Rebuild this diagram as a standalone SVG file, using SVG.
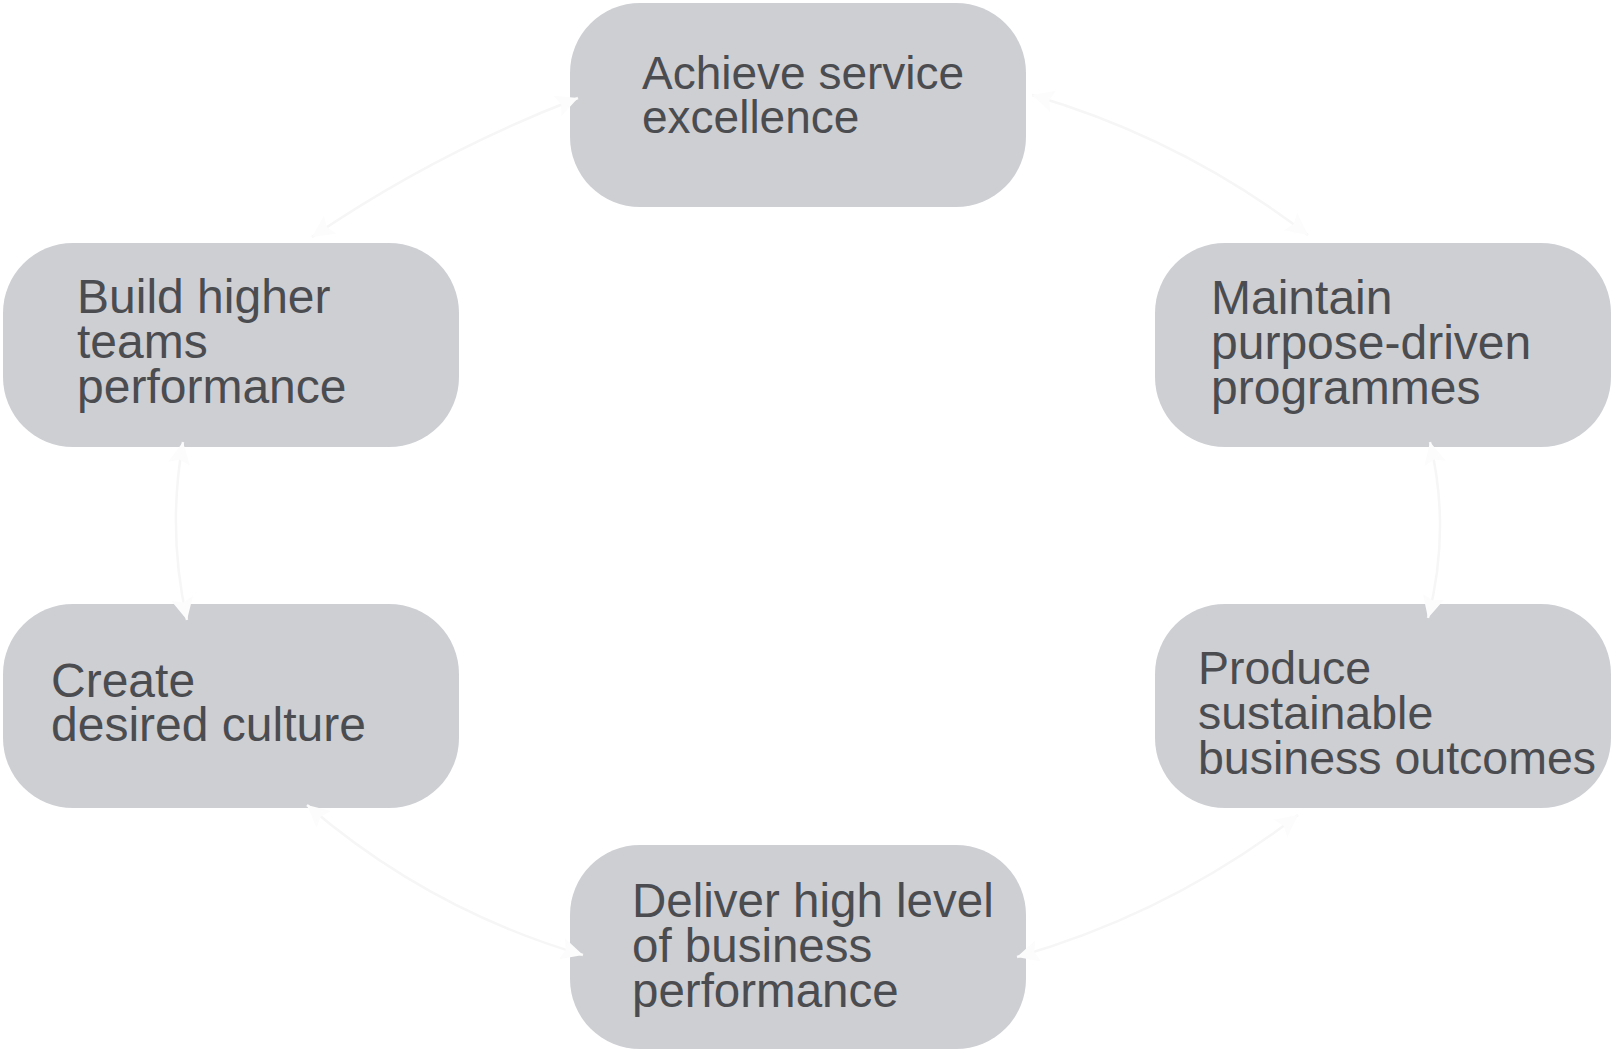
<svg xmlns="http://www.w3.org/2000/svg" width="1614" height="1052" viewBox="0 0 1614 1052">
<style>
.box{fill:#cecfd3}
.lbl{font-family:"Liberation Sans",Arial,sans-serif;font-size:48px;fill:#4b4c50}
.con{fill:none;stroke:#f6f6f7;stroke-width:2.5}
</style>
<defs>
<marker id="ah" viewBox="0 0 22 22" refX="22" refY="11" markerWidth="22" markerHeight="22" markerUnits="userSpaceOnUse" orient="auto-start-reverse">
<path d="M0,0 L22,11 L0,22 L4,11 z" fill="#fcfcfc"/>
</marker>
</defs>
<rect width="1614" height="1052" fill="#ffffff"/>
<g id="n1"><rect class="box" x="570" y="3" width="456" height="204" rx="70"/>
<text class="lbl" style="font-size:46px"><tspan x="642" y="89">Achieve service</tspan><tspan x="642" y="133">excellence</tspan></text></g>
<g id="n2"><rect class="box" x="3" y="243" width="456" height="204" rx="70"/>
<text class="lbl"><tspan x="77" y="313">Build higher</tspan><tspan x="77" y="358">teams</tspan><tspan x="77" y="403">performance</tspan></text></g>
<g id="n3"><rect class="box" x="1155" y="243" width="456" height="204" rx="70"/>
<text class="lbl"><tspan x="1211" y="314">Maintain</tspan><tspan x="1211" y="359">purpose-driven</tspan><tspan x="1211" y="404">programmes</tspan></text></g>
<g id="n4"><rect class="box" x="3" y="604" width="456" height="204" rx="70"/>
<text class="lbl"><tspan x="51" y="697">Create</tspan><tspan x="51" y="741">desired culture</tspan></text></g>
<g id="n5"><rect class="box" x="1155" y="604" width="456" height="204" rx="70"/>
<text class="lbl" style="font-size:46.5px"><tspan x="1198" y="684">Produce</tspan><tspan x="1198" y="729">sustainable</tspan><tspan x="1198" y="774">business outcomes</tspan></text></g>
<g id="n6"><rect class="box" x="570" y="845" width="456" height="204" rx="70"/>
<text class="lbl" style="font-size:47.5px"><tspan x="632" y="917">Deliver high level</tspan><tspan x="632" y="962">of business</tspan><tspan x="632" y="1007">performance</tspan></text></g>
<g id="connectors">
<path class="con" d="M578,98 Q437,152 312,237" marker-start="url(#ah)" marker-end="url(#ah)"/>
<path class="con" d="M1032,95 Q1183,139 1308,235" marker-start="url(#ah)" marker-end="url(#ah)"/>
<path class="con" d="M183,442 Q167,531 187,620" marker-start="url(#ah)" marker-end="url(#ah)"/>
<path class="con" d="M1430,442 Q1451,530 1428,618" marker-start="url(#ah)" marker-end="url(#ah)"/>
<path class="con" d="M307,805 Q429,910 583,955" marker-start="url(#ah)" marker-end="url(#ah)"/>
<path class="con" d="M1298,815 Q1171,913 1017,957" marker-start="url(#ah)" marker-end="url(#ah)"/>
</g>
</svg>
